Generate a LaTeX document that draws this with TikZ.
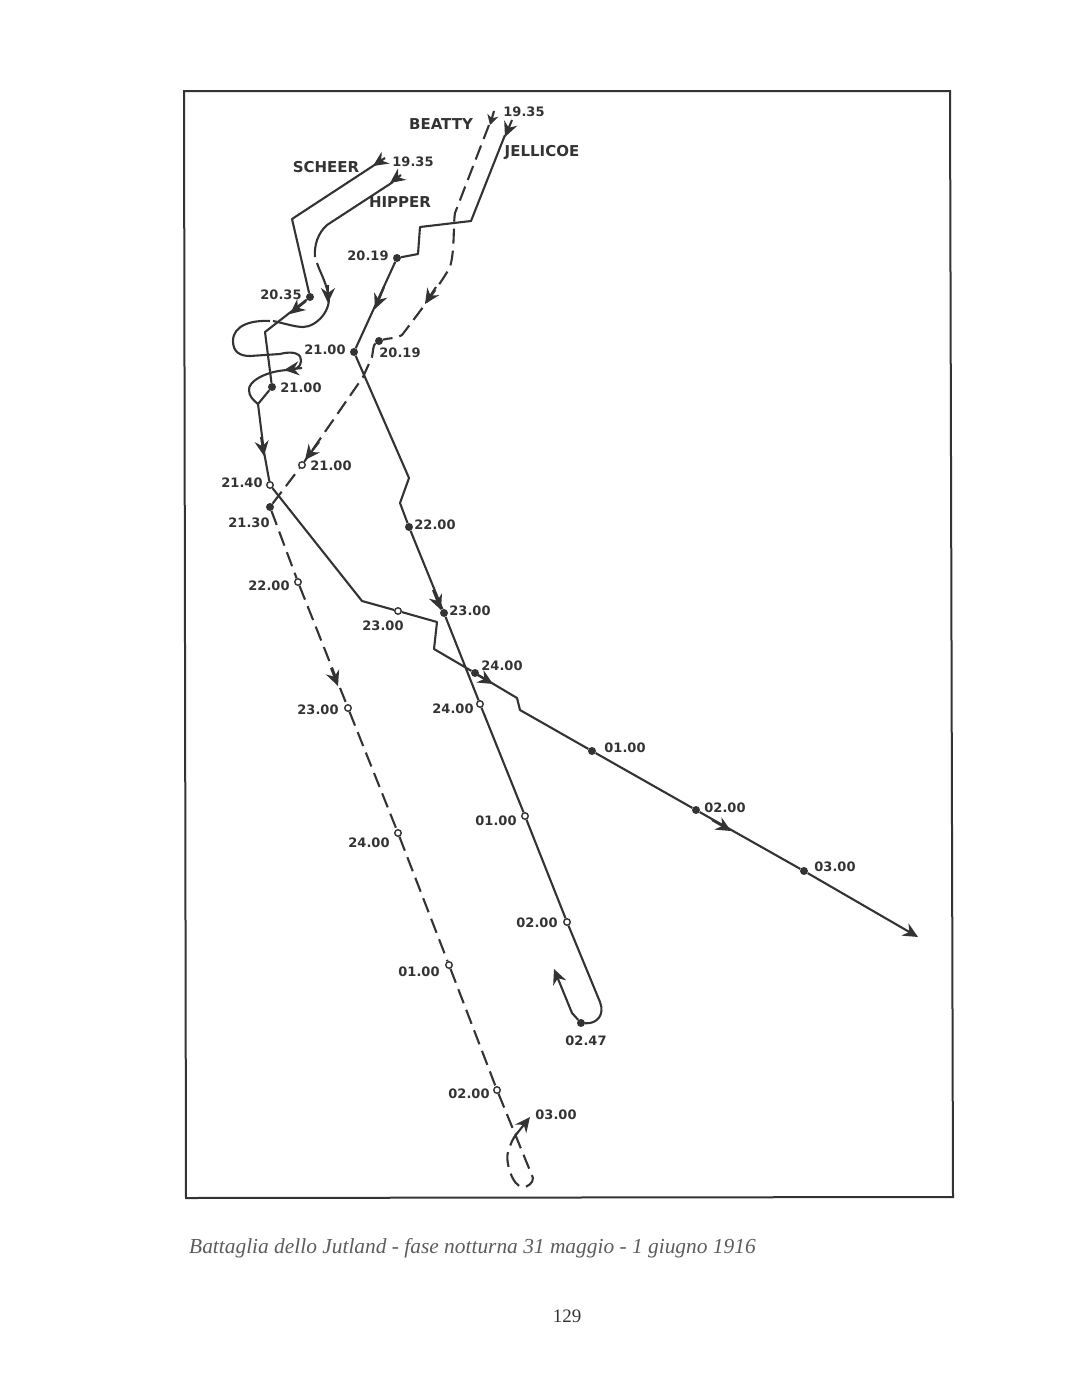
\documentclass[tikz,border=0pt]{standalone}
\usepackage{fontspec}
\setmainfont{Liberation Serif}
\newfontfamily\lblfont{DejaVu Sans}
\usetikzlibrary{arrows.meta}
\definecolor{ink}{HTML}{333333}

\begin{document}
\begin{tikzpicture} [
        x=1pt,y=-1pt,
        trk/.style={ink,line width=2.1pt,line join=round},
        dsh/.style={trk,dash pattern=on 15pt off 7pt},
        tip/.style={ink,line width=2.1pt,-{Stealth[length=15pt,width=14pt,inset=5pt]}},
        smalltip/.style={ink,line width=2.1pt,-{Stealth[length=10pt,width=11pt,inset=3pt]}},
        full/.style={circle,fill=ink,inner sep=0pt,minimum size=8pt},
        hollow/.style={circle,draw=ink,fill=white,line width=1.4pt,inner sep=0pt,minimum size=6.5pt},
        lbl/.style={ink,inner sep=0pt,font=\lblfont\bfseries\fontsize{13}{15}\selectfont},
        cmd/.style={ink,inner sep=0pt,font=\lblfont\bfseries\fontsize{15}{17}\selectfont}
    ]

    \useasboundingbox (0,0) rectangle (1091,1390);
    \draw[ink,line width=2pt] (184,91) -- (950,91) -- (953,1197) -- (186,1198) -- cycle;

    % punti orari
    \node[full](sch2035) at (310,297) {};
    \node[full](sch2100) at (272,387) {};
    \node[hollow](sch2140) at (270,485) {};
    \node[hollow](sch2300) at (398,611) {};
    \node[full](sch2400) at (475,673) {};
    \node[full](sch0100) at (592,751) {};
    \node[full](sch0200) at (696,810) {};
    \node[full](sch0300) at (804,871) {};

    \node[full](jel2019) at (397,258) {};
    \node[full](jel2100) at (354,352) {};
    \node[full](jel2200) at (409,527) {};
    \node[full](jel2300) at (444,613) {};
    \node[hollow](jel2400) at (480,704) {};
    \node[hollow](jel0100) at (525,816) {};
    \node[hollow](jel0200) at (567,922) {};
    \node[full](jel0247) at (581,1023) {};

    \node[full](bea2019) at (379,341) {};
    \node[hollow](bea2100) at (302,465) {};
    \node[full](bea2130) at (270,507) {};
    \node[hollow](bea2200) at (298,582) {};
    \node[hollow](bea2300) at (348,708) {};
    \node[hollow](bea2400) at (398,833) {};
    \node[hollow](bea0100) at (449,965) {};
    \node[hollow](bea0200) at (497,1090) {};

    \coordinate (schA) at (385,158);
    \coordinate (hipA) at (401,175);
    \coordinate (jelA) at (512,120);
    \coordinate (beaA) at (494,111);
    \coordinate (hipJ) at (258,404);
    \coordinate (gap1) at (315,257);
    \coordinate (gap2) at (317,263);
    \coordinate (gap3) at (273,321);
    \coordinate (gap4) at (270,321);
    \coordinate (jelE) at (918,937);
    \coordinate (jelF) at (554,969);
    \coordinate (endB) at (530,1117);

    % Scheer
    \draw[trk] (376,164) -- (292,219) -- (sch2035) -- (265,332) -- (sch2100) -- (hipJ) -- (264,452) -- (sch2140);
    \draw[trk] (sch2140) -- (362,601) -- (sch2300) -- (437,622) -- (434,649) -- (sch2400);
    \draw[trk] (sch2400) -- (517,698) -- (520,710) -- (sch0100) -- (sch0200) -- (sch0300);
    \draw[tip] (sch0300) -- (jelE);

    % Hipper
    \draw[trk] (393,182) -- (327,225) .. controls (318,233) and (314,245) .. (gap1);
    \draw[trk] (gap2) .. controls (320,272) and (325,280) .. (328,293)
        .. controls (333,310) and (316,327) .. (303,327) .. controls (295,327) and (283,323) .. (gap3);
    \draw[trk] (gap4) .. controls (252,320) and (233,325) .. (233,341)
        .. controls (233,352) and (240,356) .. (250,356) -- (280,354)
        .. controls (295,350) and (302,355) .. (301,361) .. controls (300,368) and (296,370) .. (288,370)
        .. controls (265,371) and (248,382) .. (249,390) .. controls (249,396) and (253,400) .. (hipJ);

    % Jellicoe
    \draw[trk] (505,135) -- (471,221) -- (420,227) -- (418,254) -- (jel2019) -- (jel2100) -- (409,478)
        -- (400,503) -- (jel2200) -- (jel2300) -- (jel2400) -- (jel0100) -- (jel0200) -- (600,1002)
        .. controls (605,1015) and (597,1024) .. (jel0247);
    \draw[tip] (jel0247) -- (572,1013) -- (jelF);

    % Beatty
    \draw[dsh] (489,125) -- (455,213) .. controls (453,225) and (455,250) .. (450,267)
        .. controls (443,280) and (425,305) .. (402,335) .. controls (395,339) and (388,338) .. (bea2019);
    \draw[dsh] (bea2019) .. controls (373,345) and (373,352) .. (372,357) -- (363,377) -- (bea2100);
    \draw[dsh] (bea2130) -- (bea2100);
    \draw[dsh] (bea2130) -- (bea2200) -- (bea2300) -- (bea2400) -- (bea0100) -- (bea0200) -- (533,1178)
        .. controls (533,1183) and (528,1187) .. (523,1187) .. controls (512,1187) and (505,1160) .. (508,1152)
        .. controls (510,1145) and (513,1138) .. (517,1133);

    % frecce
    \draw[tip] (schA) -- (373,166);
    \draw[tip] (hipA) -- (390,183);
    \draw[tip] (jelA) -- (505,137);
    \draw[smalltip] (beaA) -- (490,125);
    \draw[tip] (328,285) -- (328,303);
    \draw[tip] (306,301) -- (290,314);
    \draw[tip] (384,287) -- (375,309);
    \draw[tip] (436,287) -- (425,304);
    \draw[tip] (302,368) -- (284,370);
    \draw[tip] (261,437) -- (264,456);
    \draw[tip] (319,442) -- (305,460);
    \draw[tip] (433,590) -- (441,610);
    \draw[tip] (331,668) -- (338,686);
    \draw[tip] (476,674) -- (493,684);
    \draw[tip] (712,820) -- (731,831);
    \draw[tip] (515,1136) -- (530,1117);

    % etichette
    \node[cmd](bea) at (441,124) {BEATTY};
    \node[cmd](jel) at (542,152) {JELLICOE};
    \node[cmd](sch) at (326,167) {SCHEER};
    \node[cmd](hip) at (400,202) {HIPPER};
    \node[lbl](t1) at (524,112) {19.35};
    \node[lbl](t2) at (413,162) {19.35};
    \node[lbl](t3) at (368,256) {20.19};
    \node[lbl](t4) at (281,295) {20.35};
    \node[lbl](t5) at (325,350) {21.00};
    \node[lbl](t6) at (400,353) {20.19};
    \node[lbl](t7) at (301,388) {21.00};
    \node[lbl](t8) at (331,466) {21.00};
    \node[lbl](t9) at (242,483) {21.40};
    \node[lbl](t10) at (249,523) {21.30};
    \node[lbl](t11) at (435,525) {22.00};
    \node[lbl](t12) at (269,586) {22.00};
    \node[lbl](t13) at (470,611) {23.00};
    \node[lbl](t14) at (383,626) {23.00};
    \node[lbl](t15) at (502,666) {24.00};
    \node[lbl](t16) at (453,709) {24.00};
    \node[lbl](t17) at (318,710) {23.00};
    \node[lbl](t18) at (625,748) {01.00};
    \node[lbl](t19) at (725,808) {02.00};
    \node[lbl](t20) at (835,867) {03.00};
    \node[lbl](t21) at (496,821) {01.00};
    \node[lbl](t22) at (369,843) {24.00};
    \node[lbl](t23) at (537,923) {02.00};
    \node[lbl](t24) at (419,972) {01.00};
    \node[lbl](t25) at (586,1041) {02.47};
    \node[lbl](t26) at (469,1094) {02.00};
    \node[lbl](t27) at (556,1115) {03.00};

    \node[anchor=west,inner sep=0pt,text=ink!80,font=\itshape\fontsize{21.4}{24}\selectfont](cap) at (189,1248) {Battaglia dello Jutland - fase notturna 31 maggio - 1 giugno 1916};
    \node[inner sep=0pt,text=ink,font=\fontsize{19}{22}\selectfont](pag) at (567,1316) {129};

\end{tikzpicture}
\end{document}
